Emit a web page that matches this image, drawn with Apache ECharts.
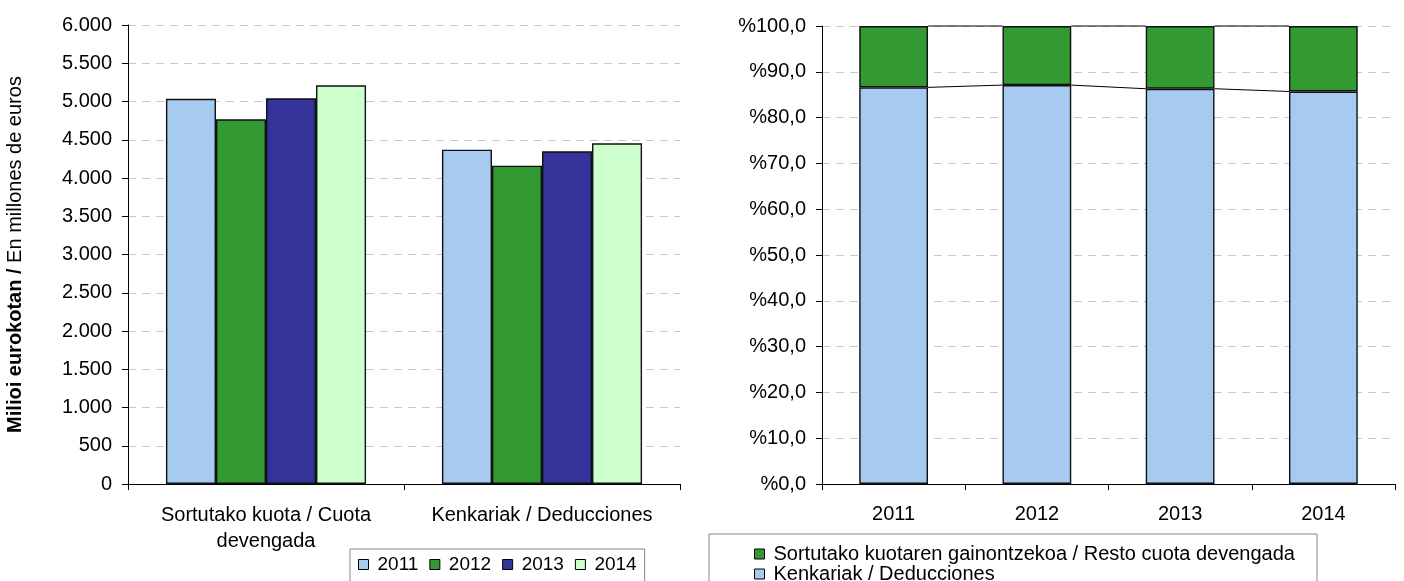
<!DOCTYPE html>
<html>
<head>
<meta charset="utf-8">
<script src="https://cdn.jsdelivr.net/npm/echarts@6/dist/echarts.min.js"></script>
<style>
html,body{margin:0;padding:0;background:#fff;}
#chart{width:1404px;height:581px;}
</style>
</head>
<body>
<div id="chart"></div>
<script>
// ---- data (left chart, million euros) ----
const leftCategories = ['Sortutako kuota / Cuota\ndevengada', 'Kenkariak / Deducciones'];
const seriesYears = ['2011', '2012', '2013', '2014'];
const values2011 = [5036, 4370];
const values2012 = [4767, 4161];
const values2013 = [5042, 4349];
const values2014 = [5212, 4453];

// ---- data (right chart, percentages) ----
const rightCategories = ['2011', '2012', '2013', '2014'];
const deduccionesPct = [86.6, 87.1, 86.3, 85.7];
const restoPct = [13.4, 12.9, 13.7, 14.3];
const restoName = 'Sortutako kuotaren gainontzekoa / Resto cuota devengada';
const deduccionesName = 'Kenkariak / Deducciones';

const FONT = "'Liberation Sans', Arial, sans-serif";
const leftColors = ['#A6CAF0', '#339933', '#333399', '#CCFFCC'];
const BAR_W = 0.48;

function seriesLineData(lower) {
  const out = [];
  for (let i = 0; i < lower.length - 1; i++) out.push([i, lower[i], lower[i + 1]]);
  return out;
}
const topTotals = deduccionesPct.map((v, i) => v + restoPct[i]);

function renderSeriesLine(params, api) {
  const i = api.value(0);
  const p1 = api.coord([i, api.value(1)]);
  const p2 = api.coord([i + 1, api.value(2)]);
  const half = api.size([1, 0])[0] * BAR_W / 2;
  return {
    type: 'line',
    shape: { x1: p1[0] + half, y1: p1[1], x2: p2[0] - half, y2: p2[1] },
    style: { stroke: '#000', lineWidth: 1 }
  };
}

const leftValues = [values2011, values2012, values2013, values2014];
const BORDER = { borderColor: '#111', borderWidth: 1.4 };

const option = {
  animation: false,
  textStyle: { fontFamily: FONT, color: '#000' },
  grid: [
    { left: 128, top: 25, width: 552, height: 459 },
    { left: 822, top: 26, width: 573, height: 458 }
  ],
  legend: [
    {
      data: seriesYears,
      left: 350, top: 549, orient: 'horizontal',
      width: 400, height: 30,
      itemWidth: 10, itemHeight: 10, itemGap: 11,
      icon: 'rect',
      borderColor: '#888', borderWidth: 1,
      padding: [6, 8, 20, 8],
      itemStyle: { borderColor: '#000', borderWidth: 1 },
      textStyle: { fontFamily: FONT, fontSize: 19, color: '#000', padding: [0, 0, 0, 4] }
    },
    {
      data: [restoName, deduccionesName],
      left: 709, top: 534, orient: 'vertical',
      width: 700, height: 45,
      itemWidth: 10, itemHeight: 10, itemGap: 0,
      icon: 'rect',
      borderColor: '#888', borderWidth: 1,
      padding: [10, 22, 20, 45],
      itemStyle: { borderColor: '#000', borderWidth: 1 },
      textStyle: { fontFamily: FONT, fontSize: 20, color: '#000', lineHeight: 20, padding: [0, 0, 0, 4] }
    }
  ],
  xAxis: [
    {
      type: 'category', gridIndex: 0, data: leftCategories,
      axisLine: { show: true, lineStyle: { color: '#000', width: 1 } },
      axisTick: { show: true, length: 6, lineStyle: { color: '#000' } },
      axisLabel: { fontFamily: FONT, fontSize: 20, color: '#000', margin: 18, lineHeight: 26, interval: 0 }
    },
    {
      type: 'category', gridIndex: 1, data: rightCategories,
      axisLine: { show: true, lineStyle: { color: '#000', width: 1 } },
      axisTick: { show: true, length: 6, lineStyle: { color: '#000' } },
      axisLabel: { fontFamily: FONT, fontSize: 20, color: '#000', margin: 20, lineHeight: 20 }
    }
  ],
  yAxis: [
    {
      type: 'value', gridIndex: 0, min: 0, max: 6000, interval: 500,
      name: '{b|Milioi eurokotan /} En millones de euros',
      nameLocation: 'middle', nameRotate: 90, nameGap: 103,
      nameTextStyle: { fontFamily: FONT, fontSize: 20, color: '#000',
        rich: { b: { fontFamily: FONT, fontSize: 20, fontWeight: 'bold', color: '#000' } } },
      axisLine: { show: true, lineStyle: { color: '#000', width: 1 } },
      axisTick: { show: true, length: 6, lineStyle: { color: '#000' } },
      axisLabel: { fontFamily: FONT, fontSize: 20, color: '#000', margin: 16,
        formatter: v => v >= 1000 ? Math.floor(v / 1000) + '.' + String(v % 1000).padStart(3, '0') : String(v) },
      splitLine: { show: true, lineStyle: { color: '#c8c8c8', type: [8, 6], width: 1 } }
    },
    {
      type: 'value', gridIndex: 1, min: 0, max: 100, interval: 10,
      axisLine: { show: true, lineStyle: { color: '#000', width: 1 } },
      axisTick: { show: true, length: 6, lineStyle: { color: '#000' } },
      axisLabel: { fontFamily: FONT, fontSize: 20, color: '#000', margin: 16,
        formatter: v => '%' + v.toFixed(1).replace('.', ',') },
      splitLine: { show: true, lineStyle: { color: '#c8c8c8', type: [8, 6], width: 1 } }
    }
  ],
  series: [
    ...seriesYears.map((name, k) => ({
      name: name, type: 'bar', xAxisIndex: 0, yAxisIndex: 0,
      data: leftValues[k],
      barGap: '0%', barCategoryGap: '27.5%',
      itemStyle: Object.assign({ color: leftColors[k] }, BORDER)
    })),
    {
      name: deduccionesName, type: 'bar', stack: 'pct', xAxisIndex: 1, yAxisIndex: 1,
      data: deduccionesPct, barWidth: (BAR_W * 100) + '%',
      itemStyle: Object.assign({ color: '#A6CAF0' }, BORDER)
    },
    {
      name: restoName, type: 'bar', stack: 'pct', xAxisIndex: 1, yAxisIndex: 1,
      data: restoPct, barWidth: (BAR_W * 100) + '%',
      itemStyle: Object.assign({ color: '#339933' }, BORDER)
    },
    {
      type: 'custom', xAxisIndex: 1, yAxisIndex: 1, silent: true, z: 5,
      renderItem: renderSeriesLine,
      encode: { x: 0, y: [1, 2] },
      data: seriesLineData(deduccionesPct)
    },
    {
      type: 'custom', xAxisIndex: 1, yAxisIndex: 1, silent: true, z: 5,
      renderItem: renderSeriesLine,
      encode: { x: 0, y: [1, 2] },
      data: seriesLineData(topTotals)
    }
  ]
};

const chart = echarts.init(document.getElementById('chart'), null, { renderer: 'canvas' });
chart.setOption(option);
</script>
</body>
</html>
